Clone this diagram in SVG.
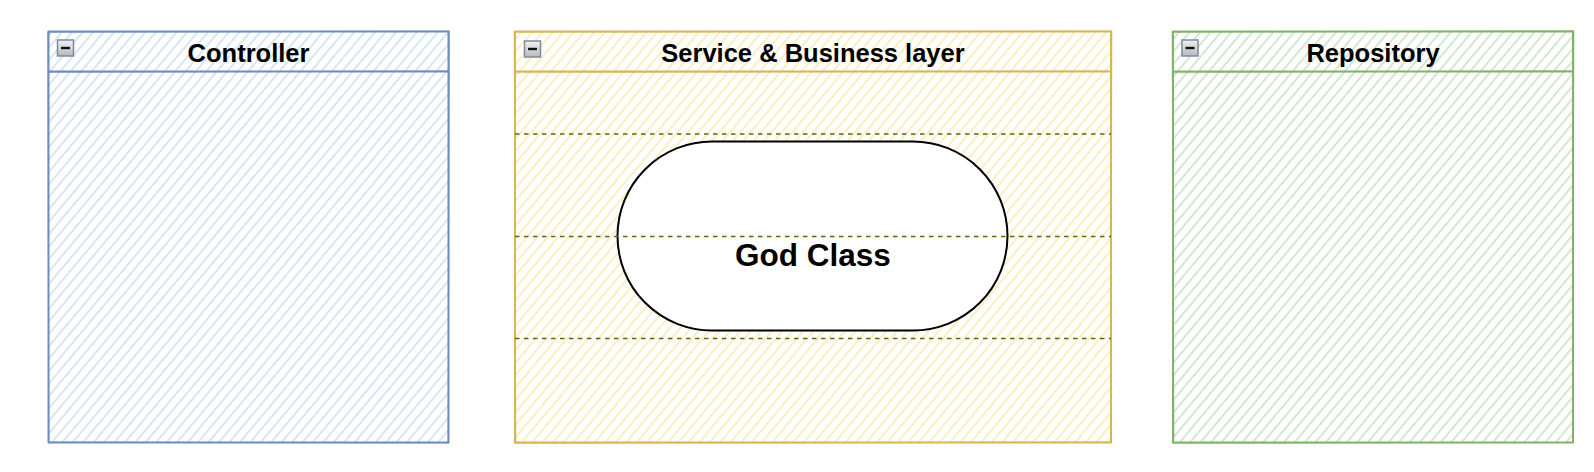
<svg xmlns="http://www.w3.org/2000/svg" width="1594" height="472" viewBox="0 0 1594 472">
  <defs>
    <pattern id="hBlue" patternUnits="userSpaceOnUse" width="8" height="10" patternTransform="rotate(40)">
      <line x1="4" y1="-1" x2="4" y2="11" stroke="#d4e2f8" stroke-width="1.8"/>
    </pattern>
    <pattern id="hYellow" patternUnits="userSpaceOnUse" width="8" height="10" patternTransform="rotate(40)">
      <line x1="4" y1="-1" x2="4" y2="11" stroke="#fdeec2" stroke-width="2"/>
    </pattern>
    <pattern id="hGreen" patternUnits="userSpaceOnUse" width="8" height="10" patternTransform="rotate(40)">
      <line x1="4" y1="-1" x2="4" y2="11" stroke="#cfe5cd" stroke-width="1.8"/>
    </pattern>
    <linearGradient id="iconGrad" x1="0" y1="0" x2="0" y2="1">
      <stop offset="0" stop-color="#f2f2f2"/>
      <stop offset="1" stop-color="#b8b8b8"/>
    </linearGradient>
    <g id="collapseIcon">
      <rect x="0" y="0" width="16" height="16" fill="url(#iconGrad)" stroke="#7d8a9e" stroke-width="1.5"/>
      <rect x="3.5" y="6.8" width="9" height="2.4" fill="#111"/>
    </g>
  </defs>
  <style>
    .title { font-family: "Liberation Sans", Arial, sans-serif; font-weight: bold; font-size: 25.5px; fill: #000; text-anchor: middle; }
    .god { font-family: "Liberation Sans", Arial, sans-serif; font-weight: bold; font-size: 31.5px; fill: #000; text-anchor: middle; }
    .border { fill: none; stroke-width: 2; stroke-linejoin: round; }
    .sketch { fill: none; stroke-width: 1; opacity: 0.55; }
    .lane { stroke: #666600; stroke-width: 1.5; stroke-dasharray: 4.5 4.5; fill: none; }
  </style>

  <g id="controller">
    <rect x="48.5" y="31.5" width="400" height="411" fill="url(#hBlue)"/>
    <rect class="border" x="48.5" y="31.5" width="400" height="411" stroke="#6c8ebf"/>
    <path class="sketch" stroke="#6c8ebf" d="M47.5 32.5 L449 31 M449.5 30.5 L448 443.5 M449 443 L48 442 M49 444 L47.5 31.5"/>
    <line x1="48.5" y1="71.5" x2="448.5" y2="71.5" stroke="#6c8ebf" stroke-width="2"/>
    <path class="sketch" stroke="#6c8ebf" d="M49 72.5 L448 70.8"/>
    <use href="#collapseIcon" x="57.5" y="40"/>
    <text class="title" x="248.5" y="62">Controller</text>
  </g>

  <g id="service">
    <rect x="515" y="31.5" width="596" height="411" fill="url(#hYellow)"/>
    <rect class="border" x="515" y="31.5" width="596" height="411" stroke="#d6b656"/>
    <path class="sketch" stroke="#d6b656" d="M514 32.5 L1112 30.8 M1112 31 L1110.5 443.5 M1112 442 L514.5 443.5 M516 444 L514 31"/>
    <line x1="515" y1="71.5" x2="1111" y2="71.5" stroke="#d6b656" stroke-width="2"/>
    <path class="sketch" stroke="#d6b656" d="M516 72.8 L1110 70.8"/>
    <use href="#collapseIcon" x="524.5" y="41"/>
    <text class="title" x="813" y="62">Service &amp; Business layer</text>
  </g>

  <g id="godclass">
    <rect x="617.5" y="141.5" width="390" height="189" rx="94.5" ry="94.5" fill="#ffffff" stroke="#000000" stroke-width="2"/>
    <text class="god" x="813" y="266">God Class</text>
  </g>

  <g id="lanes">
    <line class="lane" x1="515" y1="134" x2="1111" y2="134"/>
    <line class="lane" x1="515" y1="236.5" x2="1111" y2="236.5"/>
    <line class="lane" x1="515" y1="338.5" x2="1111" y2="338.5"/>
  </g>

  <g id="repository">
    <rect x="1173" y="31.5" width="400" height="411" fill="url(#hGreen)"/>
    <rect class="border" x="1173" y="31.5" width="400" height="411" stroke="#82b366"/>
    <path class="sketch" stroke="#82b366" d="M1172 32.5 L1574 30.5 M1574 31 L1572.5 443.5 M1574 442.5 L1172.5 443.5 M1174 444 L1172 31"/>
    <line x1="1173" y1="71.5" x2="1573" y2="71.5" stroke="#82b366" stroke-width="2"/>
    <path class="sketch" stroke="#82b366" d="M1174 72.8 L1572 70.6"/>
    <use href="#collapseIcon" x="1182" y="40"/>
    <text class="title" x="1373" y="62">Repository</text>
  </g>

  <g id="connectors"></g>
</svg>
